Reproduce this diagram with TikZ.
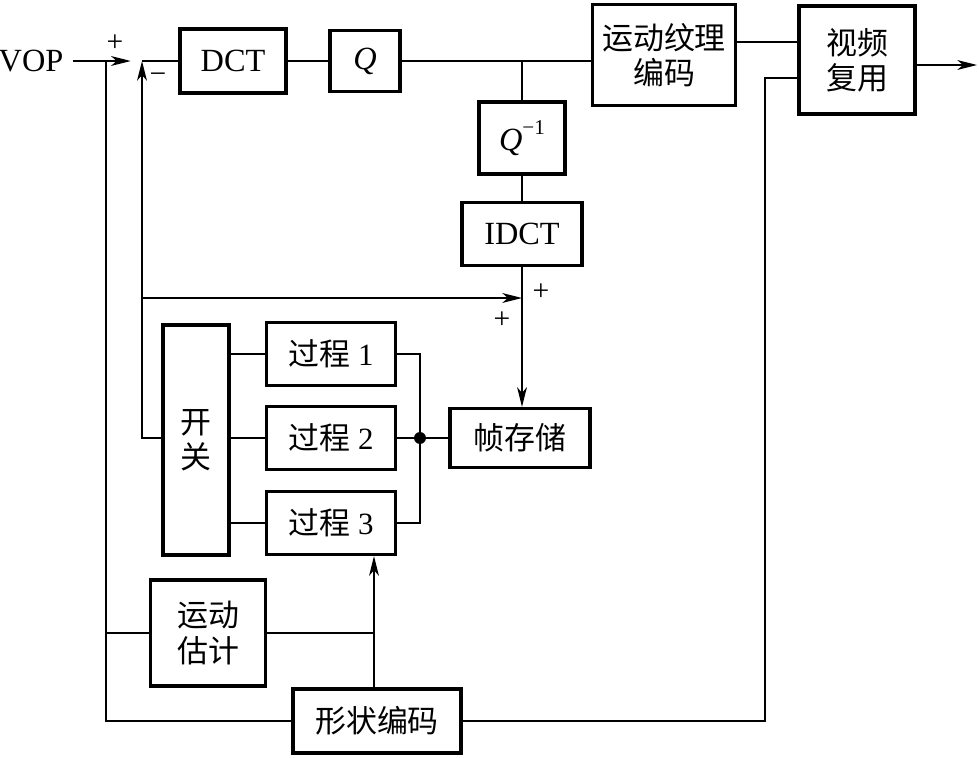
\documentclass[tikz,border=0pt]{standalone}
\usepackage{fontspec}
\setmainfont{Liberation Serif}
\newfontfamily\cjk{Noto Sans CJK SC}
\usepackage{tikz}
\usetikzlibrary{arrows.meta,positioning}

\begin{document}
\begin{tikzpicture}[x=0.025cm, y=0.025cm]
                    \tikzstyle{every node}+=[inner sep=0pt, font=\fontsize{23}{25}\selectfont]
                    \tikzstyle{block}=[draw=black, line width=2.3pt, align=center]
                    \tikzstyle{wire}=[black, line width=1.2pt]
                    \tikzstyle{sig}=[wire, -{Stealth[length=14pt,width=7pt,inset=4pt]}]
                    \tikzstyle{sign}=[font=\fontsize{21}{21}\selectfont]
                    \useasboundingbox (0,0) rectangle (979,-757);
                    \node (vop) at (31,-61) {VOP};
                    \node [block, minimum width=2.65cm, minimum height=1.6cm] (dct) at (233,-61) {DCT};
                    \node [block, minimum width=1.75cm, minimum height=1.525cm] (q) at (365,-61) {\textit{Q}};
                    \node [block, minimum width=3.575cm, minimum height=2.525cm, font=\fontsize{22}{25}\selectfont] (tex) at (664,-55) {\cjk 运动纹理\\\cjk 编码};
                    \node [block, minimum width=2.9cm, minimum height=2.7cm, font=\fontsize{22}{25}\selectfont] (mux) at (857,-60) {\cjk 视频\\\cjk 复用};
                    \node [block, minimum width=2.15cm, minimum height=1.8cm] (qinv) at (522,-138) {\textit{Q}\raisebox{1.1ex}{\fontsize{15}{15}\selectfont −1}};
                    \node [block, minimum width=3.0cm, minimum height=1.575cm] (idct) at (522,-234) {IDCT};
                    \node [block, minimum width=1.65cm, minimum height=5.75cm, font=\fontsize{22}{25}\selectfont] (sw) at (196,-440) {\cjk 开\\\cjk 关};
                    \node [block, minimum width=3.225cm, minimum height=1.575cm, font=\fontsize{22}{25}\selectfont] (p1) at (331,-354) {{\cjk 过程} 1};
                    \node [block, minimum width=3.225cm, minimum height=1.575cm, font=\fontsize{22}{25}\selectfont] (p2) at (331,-438) {{\cjk 过程} 2};
                    \node [block, minimum width=3.225cm, minimum height=1.575cm, font=\fontsize{22}{25}\selectfont] (p3) at (331,-523) {{\cjk 过程} 3};
                    \node [block, minimum width=3.5cm, minimum height=1.475cm, font=\fontsize{22}{25}\selectfont] (fs) at (520,-438) {\cjk 帧存储};
                    \node [block, minimum width=2.875cm, minimum height=2.65cm, font=\fontsize{22}{25}\selectfont] (me) at (208,-633) {\cjk 运动\\\cjk 估计};
                    \node [block, minimum width=4.2cm, minimum height=1.6cm, font=\fontsize{22}{25}\selectfont] (sh) at (377,-721) {\cjk 形状编码};
                    \coordinate (sub) at (142,-61);
                    \coordinate (add) at (522,-298);
                    \coordinate (fb) at (142,-298);
                    \coordinate (vin) at (106,-61);
                    \coordinate (bus) at (420,-438);
                    \coordinate (mej) at (374,-632);
                    \coordinate (muxin) at (765,-78);
                    \node [circle, fill=black, minimum size=8.5pt] (dot) at (bus) {};
                    \node [sign] (pa) at (115,-43) {+};
                    \node [sign] (ma) at (158,-78) {−};
                    \node [sign] (pb) at (541,-292) {+};
                    \node [sign] (pc) at (502,-320) {+};
                    \draw [sig, shorten <=7pt, shorten >=8pt] (vop) -- (sub);
                    \draw [wire] (sub) -- (dct.west);
                    \draw [wire] (dct) -- (q);
                    \draw [wire] (q.east) -- (q.east -| tex.west);
                    \draw [wire] (q.east -| qinv.north) -- (qinv.north);
                    \draw [wire] (qinv) -- (idct);
                    \draw [sig] (idct.south) -- (idct.south |- fs.north);
                    \draw [sig] (sw.west |- p2) -| (sub);
                    \draw [sig] (fb) -- (add);
                    \draw [wire] (sw.east |- p1) -- (p1.west);
                    \draw [wire] (sw.east |- p2) -- (p2.west);
                    \draw [wire] (sw.east |- p3) -- (p3.west);
                    \draw [wire] (p1.east) -| (bus) |- (p3.east);
                    \draw [wire] (p2.east) -- (fs.west);
                    \draw [wire] (vin) |- (sh.west);
                    \draw [wire] (me.west -| vin) -- (me.west);
                    \draw [wire] (me.east) -- (me.east -| mej);
                    \draw [sig] (sh.north -| mej) -- (p3.south -| mej);
                    \draw [wire] (sh.east) -| (muxin) -- (muxin -| mux.west);
                    \draw [wire] (tex.east |- 0,-42) -- (mux.west |- 0,-42);
                    \draw [sig] (mux.east |- 0,-65) -- (977,-65);
\end{tikzpicture}
\end{document}
